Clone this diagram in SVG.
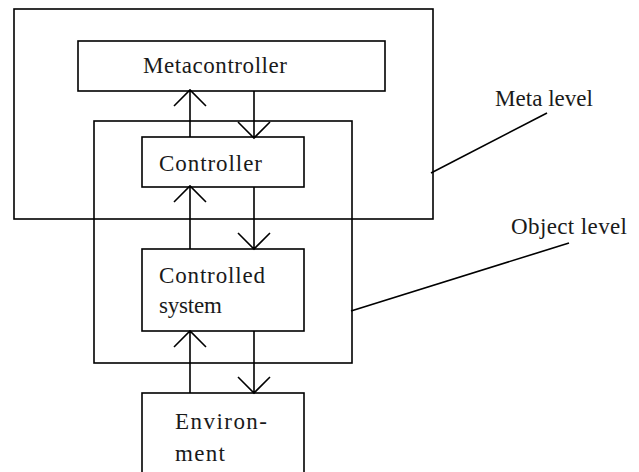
<svg xmlns="http://www.w3.org/2000/svg" width="639" height="472" viewBox="0 0 639 472">
<style>
.b{fill:none;stroke:#000;stroke-width:1.6}
.c{fill:none;stroke:#000;stroke-width:1.6}
</style>
<rect width="639" height="472" fill="#fff"/>
<g font-family="Liberation Serif, serif" font-size="23" fill="#1a1a1a">
<g id="meta-level">
<rect class="b" x="14" y="9" width="419" height="210"/>
<text x="495" y="106" textLength="98" lengthAdjust="spacing">Meta level</text>
</g>
<g id="object-level">
<rect class="b" x="94" y="121" width="258" height="242"/>
<text x="511" y="234" textLength="116" lengthAdjust="spacing">Object level</text>
</g>
<g id="metacontroller">
<rect class="b" x="78" y="41" width="307" height="50"/>
<text x="143" y="73" textLength="144" lengthAdjust="spacing">Metacontroller</text>
</g>
<g id="controller">
<rect class="b" x="142" y="137" width="162" height="50"/>
<text x="159" y="171" textLength="103" lengthAdjust="spacing">Controller</text>
</g>
<g id="controlled-system">
<rect class="b" x="142" y="249" width="162" height="82"/>
<text x="159" y="283" textLength="106" lengthAdjust="spacing">Controlled</text>
<text x="159" y="313" textLength="63" lengthAdjust="spacing">system</text>
</g>
<g id="environment">
<rect class="b" x="142" y="393" width="162" height="100"/>
<text x="175" y="429" textLength="92" lengthAdjust="spacing">Environ-</text>
<text x="175" y="461" textLength="50" lengthAdjust="spacing">ment</text>
</g>
</g>
<g id="connectors">
<path class="c" d="M190 137V91M174 106L190 90L206 106"/>
<path class="c" d="M254 91V137M238 122L254 138L270 122"/>
<path class="c" d="M190 249V187M174 202L190 186L206 202"/>
<path class="c" d="M254 187V249M238 233L254 249L270 233"/>
<path class="c" d="M190 393V331M174 347L190 331L206 347"/>
<path class="c" d="M254 331V393M238 377L254 393L270 377"/>
<path class="c" d="M431 173L547 113"/>
<path class="c" d="M351 311L569 243"/>
</g>
</svg>
